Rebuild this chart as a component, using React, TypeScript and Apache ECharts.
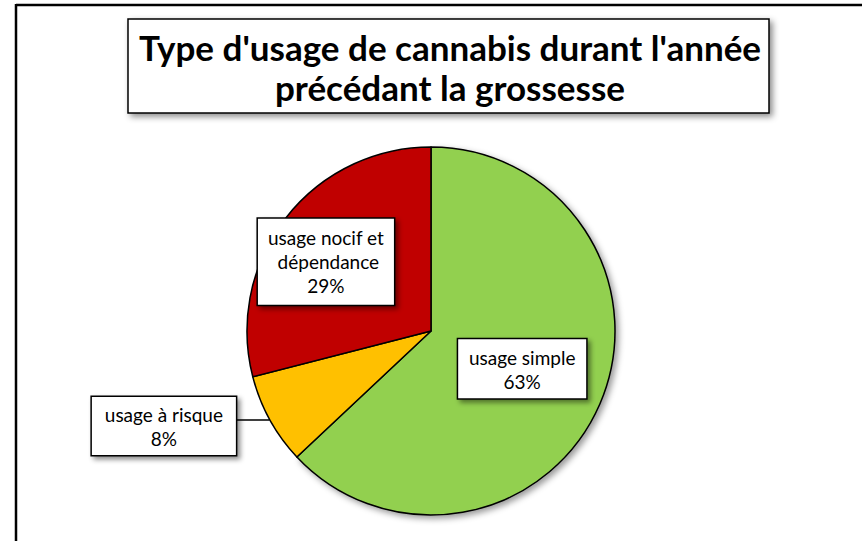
import React, { useEffect, useRef } from "react";
import * as echarts from "echarts";

const titleLines = ["Type d'usage de cannabis durant l'année", "précédant la grossesse"];
const categories = ["usage simple", "usage à risque", "usage nocif et dépendance"];
const values = [63, 8, 29];
const colors = ["#92D050", "#FFC000", "#C00000"];

export default function App() {
  const ref = useRef<HTMLDivElement>(null);
  useEffect(() => {
    if (!ref.current) return;
    const chart = echarts.init(ref.current, undefined, { renderer: "svg" });
    const font = "Lato, 'Open Sans', sans-serif";
    const labelBase = {
      show: true,
      formatter: (p: any) => `{t|${p.name}}\n{t|${p.percent}%}`,
      rich: { t: { align: "center", color: "#000", fontFamily: font, fontSize: 19, lineHeight: 24 } },
      color: "#000",
      fontFamily: font,
      fontSize: 19,
      lineHeight: 24,
      align: "center",
      backgroundColor: "#fff",
      borderColor: "#000",
      borderWidth: 1.5,
      shadowColor: "rgba(0,0,0,0.45)",
      shadowBlur: 5,
      shadowOffsetX: 3,
      shadowOffsetY: 3,
      overflow: "break",
    };
    const labelCfg: any[] = [
      { ...labelBase, position: "inside", width: 112, padding: [6, 8, 5, 8] },
      { ...labelBase, position: "outside", width: 128, padding: [5, 8, 5, 8], distanceToLabelLine: 0 },
      { ...labelBase, position: "inside", width: 120, padding: [7, 8, 7, 8] },
    ];
    const shifts = [
      [4, 0],
      [0, 6],
      [-30, -11],
    ];
    chart.setOption({
      animation: false,
      backgroundColor: "#fff",
      graphic: [
        { type: "line", shape: { x1: 16, y1: 5, x2: 862, y2: 5 }, style: { stroke: "#000", lineWidth: 2.5 } },
        { type: "line", shape: { x1: 16, y1: 4, x2: 16, y2: 541 }, style: { stroke: "#000", lineWidth: 2.5 } },
        {
          type: "rect",
          shape: { x: 128, y: 19, width: 641, height: 94 },
          style: {
            fill: "#fff",
            stroke: "#000",
            lineWidth: 1.5,
            shadowColor: "rgba(0,0,0,0.45)",
            shadowBlur: 6,
            shadowOffsetX: 3,
            shadowOffsetY: 3,
          },
        },
        {
          type: "text",
          x: 450,
          y: 67,
          style: {
            text: titleLines.join("\n"),
            fill: "#000",
            font: `bold 35px ${font}`,
            lineHeight: 40,
            align: "center",
            verticalAlign: "middle",
          },
        },
      ],
      series: [
        {
          type: "pie",
          center: [431, 331],
          radius: 184,
          startAngle: 90,
          clockwise: true,
          avoidLabelOverlap: false,
          itemStyle: { borderColor: "#000", borderWidth: 1.5 },
          labelLine: { show: false },
          labelLayout: (params: any) => {
            const s = shifts[params.dataIndex];
            return { dx: s[0], dy: s[1] };
          },
          data: categories.map((name, i) => ({
            name,
            value: values[i],
            itemStyle: {
              color: colors[i],
              ...(i === 0
                ? { shadowColor: "rgba(0,0,0,0.4)", shadowBlur: 6, shadowOffsetX: 3, shadowOffsetY: 3 }
                : {}),
            },
            label: labelCfg[i],
            labelLine:
              i === 1
                ? { show: true, length: 1, length2: 33, lineStyle: { color: "#000", width: 1.5 } }
                : { show: false },
          })),
        },
      ],
    });
    return () => chart.dispose();
  }, []);
  return (
    <div
      ref={ref}
      style={{ position: "fixed", left: 0, top: 0, width: 862, height: 541 }}
    />
  );
}
